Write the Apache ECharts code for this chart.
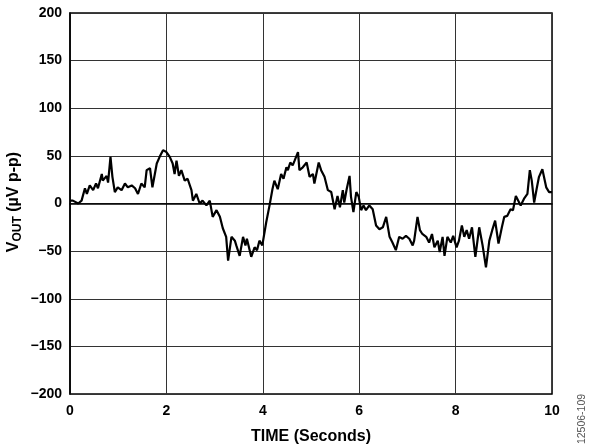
<!DOCTYPE html>
<html><head><meta charset="utf-8">
<script src="https://cdn.jsdelivr.net/npm/echarts@6/dist/echarts.min.js"></script>
<style>html,body{margin:0;padding:0;background:#fff}#c{width:594px;height:448px}</style>
</head><body><div id="c"></div>
<script>
var times = [0,0.06,0.10,0.17,0.24,0.31,0.35,0.41,0.48,0.54,0.58,0.66,0.68,0.76,0.79,0.84,0.88,0.93,0.99,1.07,1.14,1.20,1.28,1.35,1.41,1.48,1.55,1.59,1.66,1.71,1.80,1.86,1.93,2.00,2.07,2.13,2.17,2.21,2.26,2.31,2.38,2.44,2.52,2.55,2.62,2.69,2.75,2.83,2.90,2.96,3.04,3.11,3.17,3.24,3.28,3.35,3.42,3.45,3.52,3.59,3.64,3.67,3.76,3.83,3.88,3.93,3.99,4.07,4.14,4.20,4.24,4.31,4.38,4.43,4.49,4.52,4.57,4.62,4.66,4.73,4.76,4.83,4.91,4.97,5.04,5.07,5.16,5.21,5.28,5.35,5.42,5.49,5.55,5.60,5.66,5.69,5.74,5.80,5.83,5.88,5.94,5.99,6.04,6.09,6.14,6.21,6.28,6.35,6.42,6.49,6.56,6.63,6.69,6.76,6.83,6.90,6.97,7.04,7.11,7.14,7.21,7.26,7.31,7.39,7.45,7.51,7.56,7.63,7.67,7.73,7.77,7.83,7.90,7.95,8.02,8.07,8.13,8.18,8.23,8.28,8.34,8.41,8.49,8.56,8.63,8.70,8.76,8.82,8.89,8.96,9.01,9.07,9.14,9.19,9.25,9.30,9.35,9.42,9.49,9.54,9.58,9.63,9.68,9.73,9.80,9.83,9.88,9.94,10.0];
var vout = [3,3,5,0,3,16,10,19,14,21,16,31,24,29,22,49,28,12,17,14,21,17,19,16,10,21,17,35,37,17,42,49,56,54,49,42,31,45,29,35,24,26,14,3,10,0,3,-2,3,-14,-7,-14,-26,-35,-60,-35,-39,-44,-55,-35,-44,-37,-56,-46,-49,-39,-44,-20,-2,15,24,15,31,26,38,35,43,40,45,54,35,38,43,28,31,21,43,35,28,14,12,-6,8,-4,14,1,15,29,7,-9,12,7,-7,-2,-7,-2,-6,-23,-27,-25,-14,-35,-41,-49,-35,-37,-34,-37,-44,-39,-14,-28,-32,-35,-41,-32,-46,-39,-51,-35,-55,-35,-41,-34,-46,-39,-23,-35,-28,-37,-25,-56,-25,-44,-67,-39,-28,-18,-42,-25,-14,-13,-6,-7,8,3,-2,5,10,35,24,1,15,28,36,38,17,12,12];
var xTicks = [0,2,4,6,8,10];
var yTicks = [-200,-150,-100,-50,0,50,100,150,200];

var data = times.map(function(t,i){return [t, vout[i]];});
var chart = echarts.init(document.getElementById('c'));
var FF = 'Liberation Sans, Arial, sans-serif';
chart.setOption({
  animation:false,
  grid:{left:70,right:42,top:13,bottom:54,show:true,borderColor:'#000',borderWidth:1.5,
    containLabel:false,outerBoundsMode:'none'},
  xAxis:{type:'value',min:0,max:10,interval:2,
    name:'TIME (Seconds)',nameLocation:'middle',nameGap:35,
    nameTextStyle:{fontFamily:FF,fontWeight:'bold',fontSize:16,color:'#000'},
    axisLine:{show:true,lineStyle:{color:'#000',width:1.5}},
    axisTick:{show:false},
    axisLabel:{fontFamily:FF,fontWeight:'bold',fontSize:14,color:'#000',margin:10},
    splitLine:{show:true,lineStyle:{color:'#333',width:1}}},
  yAxis:{type:'value',min:-200,max:200,interval:50,
    axisLine:{show:true,lineStyle:{color:'#000',width:1.5}},
    axisTick:{show:false},
    axisLabel:{fontFamily:FF,fontWeight:'bold',fontSize:14,color:'#000',margin:8,
      formatter:function(v){return v<0?'\u2212'+(-v):String(v);}},
    splitLine:{show:true,lineStyle:{color:'#333',width:1}}},
  series:[{type:'line',data:data,showSymbol:false,symbol:'none',
    lineStyle:{color:'#000',width:2.2},z:5}],
  graphic:[
    {type:'text',x:14,y:202,rotation:Math.PI/2,
      style:{text:'{a|V}{b|OUT}{a| (µV p-p)}',align:'center',verticalAlign:'middle',
        rich:{
          a:{fontFamily:FF,fontWeight:'bold',fontSize:16,fill:'#000',lineHeight:20,verticalAlign:'middle'},
          b:{fontFamily:FF,fontWeight:'bold',fontSize:12,fill:'#000',lineHeight:20,verticalAlign:'bottom',padding:[7,0,0,0]}}}},
    {type:'text',x:582,y:419,rotation:Math.PI/2,
      style:{text:'12506-109',fontFamily:FF,fontSize:10.5,fill:'#555',align:'center',verticalAlign:'middle'}}]
});
</script></body></html>
